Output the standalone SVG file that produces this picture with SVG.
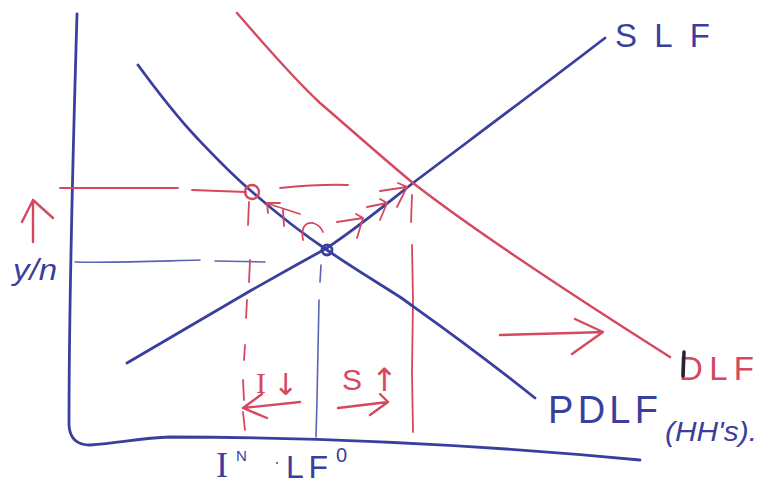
<svg xmlns="http://www.w3.org/2000/svg" width="761" height="485" viewBox="0 0 761 485">
<style>
.b{fill:none;stroke:#3a3f9e;stroke-width:2.8;stroke-linecap:round;stroke-linejoin:round}
.bt{fill:none;stroke:#5a63b0;stroke-width:1.6;stroke-linecap:round}
.r{fill:none;stroke:#d6485e;stroke-width:2.4;stroke-linecap:round;stroke-linejoin:round}
.rt{fill:none;stroke:#d6485e;stroke-width:1.8;stroke-linecap:round}
.tb{font-family:"Liberation Sans",sans-serif;fill:#3a3f9e}
.tr{font-family:"Liberation Sans",sans-serif;fill:#d6485e}
.ar{font-family:"DejaVu Sans",sans-serif;fill:#d6485e}
.sf{font-family:"Liberation Serif",serif}
</style>
<rect width="761" height="485" fill="#fff"/>
<g id="axes">
<path class="b" d="M77,14 C73,150 69,300 69,425 Q70,445 90,445 C120,443 140,438 170,437 C300,437 450,442 640,460"/>
</g>
<g id="guides">
<path class="rt" d="M60,188 L178,188 M192,190 L246,192 M280,188 C300,186 325,184 348,185"/>
<path class="bt" d="M75,262 C120,263 160,261 200,260 M215,261 L265,262"/>
<path class="rt" d="M249,202 L248,225 M250,260 L249,282 M247,300 L246,318 M245,345 L244,360 M243,380 L244,400 M243,412 L245,430"/>
<path class="rt" d="M412,195 L411,222 M412,245 L413,300 L412,372 L413,432"/>
<path class="bt" d="M321,265 L320,282 M319,300 L317,400 L316,437"/>
</g>
<g id="SLF">
<path class="b" d="M127,363 C170,338 210,314 250,291 C280,274 300,263 327,248 C360,226 385,205 413,183 C470,140 540,88 605,38"/>
<text class="tb" x="615" y="47" font-size="33" textLength="95" lengthAdjust="spacing">SLF</text>
</g>
<g id="PDLF">
<path class="b" d="M138,65 C160,95 180,120 197,138 C215,157 230,173 250,190 C275,212 300,232 327,250 C350,266 375,281 400,297 C435,322 470,346 535,398"/>
<text class="tb" x="548" y="423" font-size="38" textLength="110" lengthAdjust="spacing">PDLF</text>
<text class="tb" x="665" y="441" font-size="27" font-style="italic" textLength="92" lengthAdjust="spacingAndGlyphs">(HH's).</text>
</g>
<g id="DLF">
<path class="r" d="M237,13 C265,45 290,75 320,103 C355,133 385,160 413,183 C480,235 580,300 670,357"/>
<text class="tr" x="679" y="380" font-size="33" textLength="75" lengthAdjust="spacing">DLF</text>
<path d="M684,352 L683,376" stroke="#2a2030" stroke-width="3.5" stroke-linecap="round"/>
</g>
<g id="points">
<circle cx="252" cy="192" r="7" class="r" stroke-width="2"/>
<circle cx="327" cy="250" r="5" class="b" stroke-width="2.2"/>
</g>
<g id="arrows">
<path class="r" d="M33,242 L33,200 M22,222 L33,200 L53,218"/>
<path class="r" d="M500,335 C540,334 570,333 603,332 M575,319 L603,332 L572,354"/>
<path class="rt" d="M300,214 L266,203 L280,203 M267,203 L268,213 M283,210 L284,226"/>
<path class="rt" d="M303,240 Q300,222 313,223 Q320,225 323,232"/>
<path class="rt" d="M337,222 L363,218 M356,214 L363,218 L357,238 M367,207 L387,203 M380,199 L387,203 L380,220 M380,191 L407,187 M398,183 L407,187 L397,207"/>
<path class="r" d="M300,402 L243,408 M262,394 L243,408 L267,418"/>
<path class="r" d="M338,408 L388,402 M380,394 L388,402 L370,415"/>
</g>
<g id="labels">
<text class="tb" x="13" y="280" font-size="30" font-style="italic" textLength="44" lengthAdjust="spacingAndGlyphs">y/n</text>
<text class="tr sf" x="256" y="393" font-size="30">I</text>
<text class="ar" x="273" y="395" font-size="30">↓</text>
<text class="tr" x="342" y="390" font-size="30">S</text>
<text class="ar" x="371" y="391" font-size="32">↑</text>
<text class="tb sf" x="216" y="477" font-size="36">I</text>
<text class="tb" x="236" y="461" font-size="15">N</text>
<circle cx="277" cy="463" r="1" fill="#3a3f9e"/>
<text class="tb" x="286" y="478" font-size="32" textLength="42" lengthAdjust="spacing">LF</text>
<text class="tb" x="336" y="462" font-size="20">0</text>
</g>
</svg>
